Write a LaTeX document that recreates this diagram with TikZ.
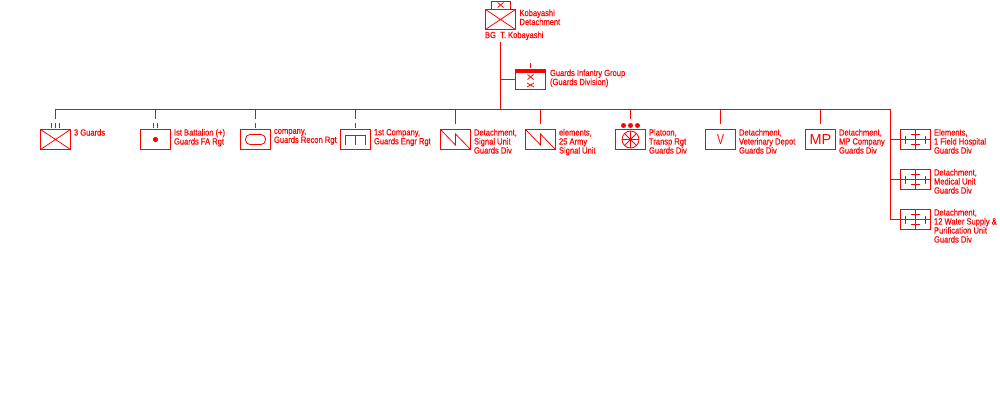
\documentclass[tikz,border=0pt]{standalone}
\usepackage{fontspec}
\setmainfont[FakeStretch=0.84,FakeBold=0.45]{Liberation Sans}
\newfontfamily\emblemfont{Liberation Sans}
\definecolor{orgred}{RGB}{255,0,0}
\tikzset{
  x=1pt,y=-1pt,
  link/.style={draw=orgred,line width=1pt},
  unitbox/.style={draw=orgred,line width=1pt,minimum width=30pt,minimum height=20pt,inner sep=0pt,outer sep=0pt,anchor=north west},
  mark line/.style={draw=orgred,line width=0.8pt},
  emblem/.style={text=orgred,font=\emblemfont\fontsize{14.5}{14.5}\selectfont,inner sep=0pt},
  caption/.style={text=orgred,font=\fontsize{9}{9}\selectfont,align=left,anchor=north west,inner sep=0pt,outer sep=0pt,execute at begin node=\rule{0pt}{6.6pt}}
}
\begin{document}
\begin{tikzpicture}
\useasboundingbox (0,0) rectangle (1000,400);
% Command box and its headquarters tab
\node[unitbox] (cmd) at (485.5,9.5) {};
\node[draw=orgred,line width=1pt,minimum width=19pt,minimum height=8pt,inner sep=0pt,outer sep=0pt,anchor=south] (tab) at (cmd.north) {};
\draw[mark line] (cmd.north west) -- (cmd.south east) (cmd.north east) -- (cmd.south west);
\draw[mark line] (497.5,2.5) -- (503.5,7.5) (503.5,2.5) -- (497.5,7.5);
\node[caption] (cmdtext) at (519.5,9.5) {Kobayashi\\Detachment};
\node[caption] (cmdname) at (485,31.5) {BG\ \ T. Kobayashi};
\coordinate (stemtop) at (500.5,42);
\coordinate (bus) at (500.5,109.5);
\draw[link] (stemtop) -- (bus);
\draw[link] (55.5,119) -- (55.5,109.5) -- (890.5,109.5) -- (890.5,219.5);

% Infantry group box with filled header
\node[unitbox] (grp) at (515.5,69.5) {};
\fill[orgred] (515.5,69.5) rectangle (545.5,72.5);
\draw[link] (500.5,79.5) -- (grp.west);
\draw[mark line] (530.5,63) -- (530.5,68);
\draw[mark line] (527.5,74.5) -- (533.5,79.5) (533.5,74.5) -- (527.5,79.5);
\draw[mark line] (527,83) -- (534,87) (534,83) -- (527,87);
\node[caption] (grptext) at (550,69.5) {Guards Infantry Group\\(Guards Division)};

% Subordinate units along the bus
\node[unitbox] (u1) at (40.5,129.5) {};
\draw[mark line] (u1.north west) -- (u1.south east) (u1.north east) -- (u1.south west);
\foreach \tx in {51.5,55.5,59.5} \draw[mark line] (\tx,123) -- (\tx,127.5);
\node[caption] (t1) at (74,129) {3 Guards};

\node[unitbox] (u2) at (140.5,129.5) {};
\fill[orgred] (155.5,139.5) circle (2.6);
\draw[link] (155.5,109.5) -- (155.5,119);
\foreach \tx in {153.5,157.5} \draw[mark line] (\tx,123) -- (\tx,127.5);
\node[caption] (t2) at (174,129) {Ist Battalion (+)\\Guards FA Rgt};

\node[unitbox] (u3) at (240.5,129.5) {};
\draw[mark line,rounded corners=4.5pt] (245.5,134.5) rectangle (265.5,144.5);
\draw[link] (255.5,109.5) -- (255.5,119);
\draw[mark line] (255.5,123) -- (255.5,127.5);
\node[caption] (t3) at (274,129) {company,\\Guards Recon Rgt};

\node[unitbox] (u4) at (340.5,129.5) {};
\draw[mark line] (345.5,144.5) -- (345.5,135.5) -- (365.5,135.5) -- (365.5,144.5) (355.5,135.5) -- (355.5,144.5);
\draw[link] (355.5,109.5) -- (355.5,119);
\draw[mark line] (355.5,123) -- (355.5,127.5);
\node[caption] (t4) at (374,129) {1st Company,\\Guards Engr Rgt};

\node[unitbox] (u5) at (440.5,129.5) {};
\draw[mark line] (u5.north west) -- (455.5,145) -- (455.5,134) -- (u5.south east);
\draw[link] (455.5,109.5) -- (455.5,124);
\node[caption] (t5) at (474,129) {Detachment,\\Signal Unit\\Guards Div};

\node[unitbox] (u6) at (525.5,129.5) {};
\draw[mark line] (u6.north west) -- (540.5,145) -- (540.5,134) -- (u6.south east);
\draw[link] (540.5,109.5) -- (540.5,124);
\node[caption] (t6) at (559,129) {elements,\\25 Army\\Signal Unit};

\node[unitbox] (u7) at (615.5,129.5) {};
\draw[mark line] (630.5,139.5) circle (8.5);
\draw[mark line] (622,139.5) -- (639,139.5) (630.5,131) -- (630.5,148)
  (624.5,133.5) -- (636.5,145.5) (636.5,133.5) -- (624.5,145.5);
\fill[orgred] (630.5,139.5) circle (1.6);
\draw[link] (630.5,109.5) -- (630.5,119);
\foreach \tx in {623.5,630.5,637.5} \fill[orgred] (\tx,125.5) circle (2.5);
\node[caption] (t7) at (649,129) {Platoon,\\Transp Rgt\\Guards Div};

\node[unitbox] (u8) at (705.5,129.5) {};
\node[emblem,xscale=0.72] (u8m) at (720.5,140) {V};
\draw[link] (720.5,109.5) -- (720.5,124);
\node[caption] (t8) at (739,129) {Detachment,\\Veterinary Depot\\Guards Div};

\node[unitbox] (u9) at (805.5,129.5) {};
\node[emblem] (u9m) at (820.5,140) {MP};
\draw[link] (820.5,109.5) -- (820.5,124);
\node[caption] (t9) at (839,129) {Detachment,\\MP Company\\Guards Div};

% Medical units stacked on the right-hand branch
\foreach \n/\yy in {a/129.5,b/169.5,c/209.5}{
  \node[unitbox] (m\n) at (900.5,\yy) {};
  \draw[link] (890.5,\yy+10) -- (m\n.west);
  \draw[mark line] (900.5,\yy+10) -- (930.5,\yy+10) (915.5,\yy) -- (915.5,\yy+20);
  \draw[mark line] (911,\yy+5) -- (920,\yy+5) (911,\yy+15) -- (920,\yy+15)
    (905.5,\yy+6) -- (905.5,\yy+14) (925.5,\yy+6) -- (925.5,\yy+14);
}
\node[caption] (ta) at (934,129) {Elements,\\1 Field Hospital\\Guards Div};
\node[caption] (tb) at (934,169) {Detachment,\\Medical Unit\\Guards Div};
\node[caption] (tc) at (934,209) {Detachment,\\12 Water Supply \&\\Purification Unit\\Guards Div};
\end{tikzpicture}
\end{document}
